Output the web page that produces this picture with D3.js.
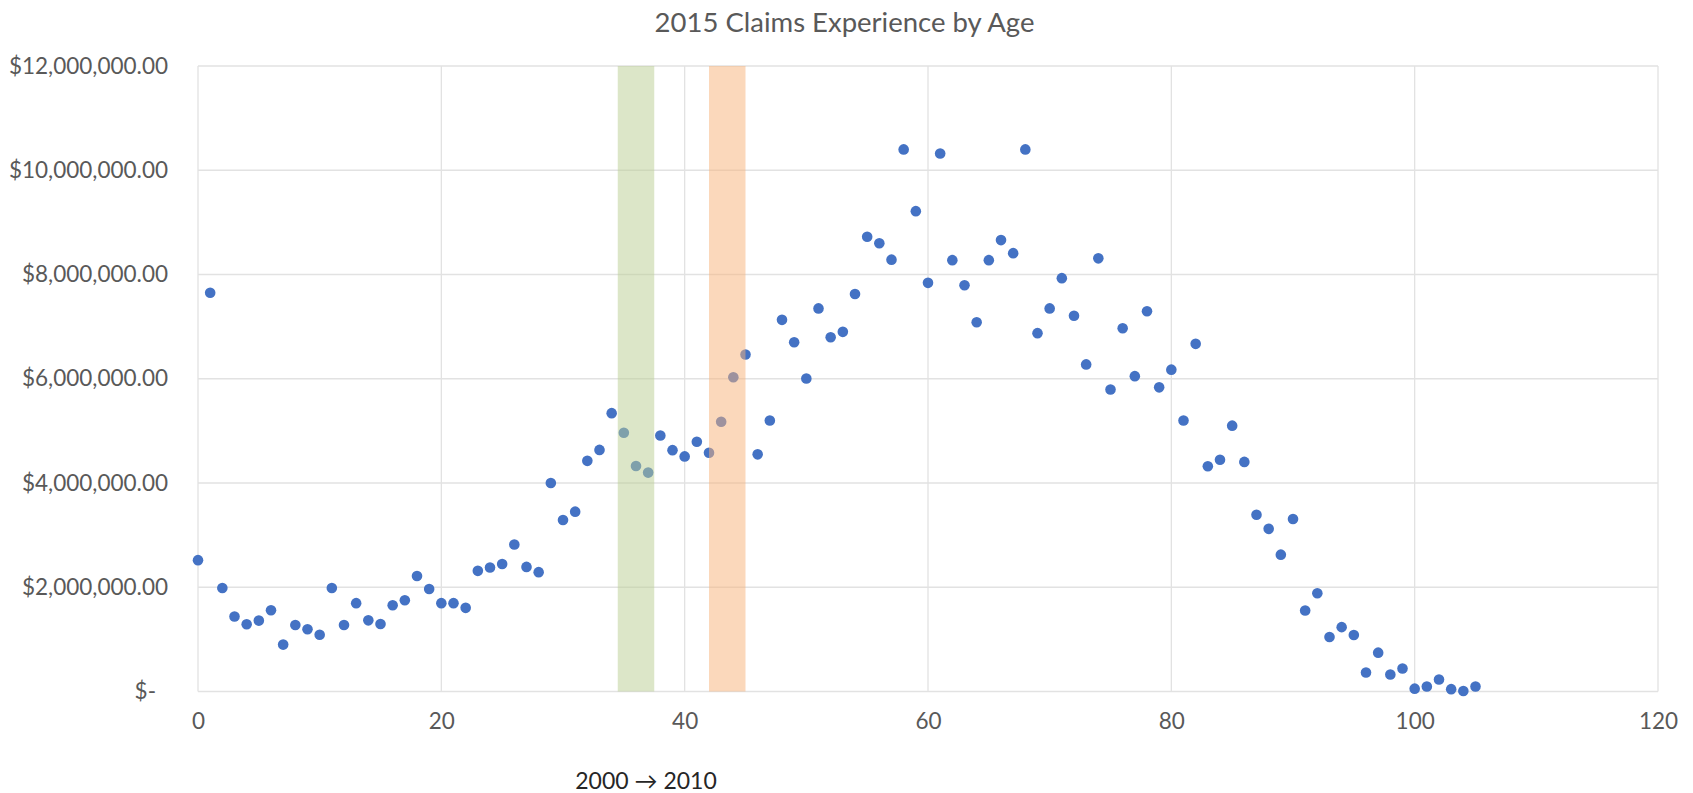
<script src="https://cdn.jsdelivr.net/npm/d3@7"></script>
<style>
  body { margin: 0; background: #fff; }
  svg { display: block; }
</style>
<svg id="chart" width="1693" height="793"></svg>
<script>
  // ages on the x axis
  const ages = [
    0, 1, 2, 3, 4, 5, 6, 7, 8, 9, 10, 11, 12, 13, 14, 15, 16, 17, 18, 19,
    20, 21, 22, 23, 24, 25, 26, 27, 28, 29, 30, 31, 32, 33, 34, 35, 36, 37, 38, 39,
    40, 41, 42, 43, 44, 45, 46, 47, 48, 49, 50, 51, 52, 53, 54, 55, 56, 57, 58, 59,
    60, 61, 62, 63, 64, 65, 66, 67, 68, 69, 70, 71, 72, 73, 74, 75, 76, 77, 78, 79,
    80, 81, 82, 83, 84, 85, 86, 87, 88, 89, 90, 91, 92, 93, 94, 95, 96, 97, 98, 99,
    100, 101, 102, 103, 104, 105
  ];
  // 2015 claims, dollars
  const claims = [
    2520000, 7650000, 1985000, 1440000, 1290000, 1360000, 1560000, 900000, 1275000, 1195000,
    1090000, 1985000, 1275000, 1695000, 1365000, 1295000, 1655000, 1750000, 2215000, 1965000,
    1695000, 1695000, 1605000, 2315000, 2380000, 2445000, 2820000, 2390000, 2290000, 4000000,
    3290000, 3450000, 4425000, 4635000, 5340000, 4965000, 4325000, 4200000, 4910000, 4630000,
    4510000, 4790000, 4580000, 5175000, 6030000, 6465000, 4550000, 5200000, 7130000, 6700000,
    6005000, 7350000, 6795000, 6900000, 7625000, 8725000, 8600000, 8285000, 10400000, 9215000,
    7840000, 10320000, 8275000, 7795000, 7085000, 8275000, 8660000, 8410000, 10400000, 6875000,
    7350000, 7930000, 7210000, 6275000, 8310000, 5795000, 6970000, 6050000, 7295000, 5835000,
    6175000, 5200000, 6670000, 4320000, 4445000, 5100000, 4405000, 3390000, 3120000, 2625000,
    3310000, 1555000, 1885000, 1045000, 1235000, 1085000, 365000, 745000, 325000, 440000,
    55000, 95000, 230000, 45000, 10000, 95000
  ];
  // shaded age ranges (start, end)
  const bandStart = [34.5, 42];
  const bandEnd = [37.5, 45];
  const bandColors = ["rgb(185,205,145)", "rgb(247,177,119)"];

  const xTicks = [0, 20, 40, 60, 80, 100, 120];
  const yTicks = [0, 2000000, 4000000, 6000000, 8000000, 10000000, 12000000];

  const title = "2015 Claims Experience by Age";
  const note = "2000 \u2192 2010";

  const margin = { top: 66, right: 35, bottom: 101.5, left: 198 };
  const W = 1693, H = 793;
  const w = W - margin.left - margin.right;
  const h = H - margin.top - margin.bottom;

  const svg = d3.select("#chart");
  const font = "Lato, 'DejaVu Sans', sans-serif";

  const x = d3.scaleLinear().domain([0, 120]).range([0, w]);
  const y = d3.scaleLinear().domain([0, 12000000]).range([h, 0]);

  const g = svg.append("g").attr("transform", `translate(${margin.left},${margin.top})`);

  // gridlines
  g.append("g")
    .selectAll("line.v")
    .data(xTicks)
    .join("line")
    .attr("x1", d => x(d)).attr("x2", d => x(d))
    .attr("y1", 0).attr("y2", h)
    .attr("stroke", "#e2e2e2").attr("stroke-width", 1.3);
  g.append("g")
    .selectAll("line.h")
    .data(yTicks)
    .join("line")
    .attr("x1", 0).attr("x2", w)
    .attr("y1", d => y(d)).attr("y2", d => y(d))
    .attr("stroke", "#e2e2e2").attr("stroke-width", 1.3);

  // points
  g.append("g")
    .selectAll("circle")
    .data(ages)
    .join("circle")
    .attr("cx", d => x(d))
    .attr("cy", (d, i) => y(claims[i]))
    .attr("r", 5.3)
    .attr("fill", "#4472C4");

  // shaded bands on top, semi transparent
  g.append("g")
    .selectAll("rect")
    .data(bandStart)
    .join("rect")
    .attr("x", d => x(d))
    .attr("width", (d, i) => x(bandEnd[i]) - x(d))
    .attr("y", 0)
    .attr("height", h)
    .attr("fill", (d, i) => bandColors[i])
    .attr("opacity", 0.5);

  // axes (labels only)
  const xAxis = g.append("g")
    .attr("transform", `translate(0,${h})`)
    .call(d3.axisBottom(x).tickValues(xTicks).tickSize(0).tickPadding(22));
  xAxis.select(".domain").remove();
  xAxis.selectAll("text")
    .attr("font-family", font).attr("font-size", 22.5).attr("fill", "#595959");

  const fmt = d3.format("$,.2f");
  const yAxis = g.append("g")
    .call(d3.axisLeft(y).tickValues(yTicks).tickSize(0).tickPadding(30)
      .tickFormat(d => d === 0 ? "$-" : fmt(d)));
  yAxis.select(".domain").remove();
  yAxis.selectAll("text")
    .attr("font-family", font).attr("font-size", 22.5).attr("fill", "#595959")
    .attr("dx", d => d === 0 ? -12 : 0);

  // title
  svg.append("text")
    .attr("x", W / 2 - 2)
    .attr("y", 22)
    .attr("dy", "0.35em")
    .attr("text-anchor", "middle")
    .attr("font-family", font)
    .attr("font-size", 27.5)
    .attr("fill", "#595959")
    .text(title);

  // note under the bands
  svg.append("text")
    .attr("x", 646)
    .attr("y", 781)
    .attr("dy", "0.35em")
    .attr("text-anchor", "middle")
    .attr("font-family", font)
    .attr("font-size", 23)
    .attr("fill", "#262626")
    .text(note);
</script>
